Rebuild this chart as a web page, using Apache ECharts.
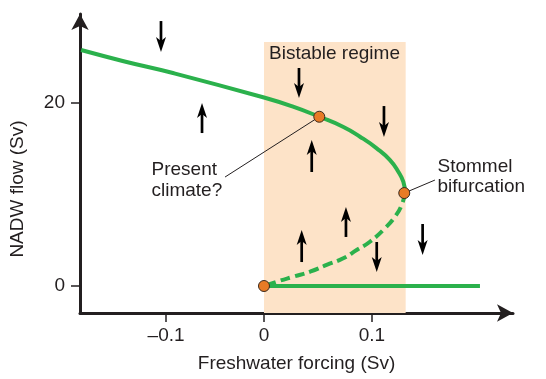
<!DOCTYPE html>
<html><head><meta charset="utf-8">
<script src="https://cdn.jsdelivr.net/npm/echarts@6/dist/echarts.min.js"></script>
<style>html,body{margin:0;padding:0;background:#fff}#c{width:546px;height:379px}</style>
</head><body><div id="c"></div>
<script>
// ---- data ----
const upperBranch = [[-0.1694,25.79],[-0.13,24.57],[-0.0843,23.28],[0,20.6],[0.0269,19.6],[0.0512,18.5],[0.0731,17.41],[0.0889,16.32],[0.1044,15.05],[0.1167,13.77],[0.1244,12.49],[0.129,11.4],[0.1307,10.2]];
const unstableBranch = [[0.1307,10.2],[0.1275,8.85],[0.1213,7.57],[0.112,6.31],[0.0981,4.84],[0.0858,3.93],[0.0734,3.03],[0.058,2.3],[0.0426,1.56],[0.0271,1.02],[0.0118,0.47],[0,0]];
const lowerBranch = [[0,0],[0.2,0]];
const statePoints = [[0.0512,18.5],[0.1299,10.16],[0,0]];
// arrows: [x, yStart, yEnd]
const arrows = [[-0.0954,28.96,25.57],[-0.0574,16.72,20.0],[0.0324,23.83,20.55],[0.1111,19.67,16.28],[0.0442,12.46,15.96],[0.0759,5.36,8.63],[0.0349,2.62,6.12],[0.1044,4.81,1.53],[0.1469,6.78,3.39]];
const bistableRange = [0, 0.1312];
const bistableTop = 26.67;
const presentLeader = [[-0.0361,11.91],[0.0512,18.5]];
const stommelLeader = [[0.1583,11.58],[0.1299,10.16]];
const xTickPos = [-0.0907, 0, 0.1];
const xTickLabels = ['–0.1', '0', '0.1'];
const yTickPos = [0, 20];
const yTickLabels = ['0', '20'];

const INK = '#231f20';
const GREEN = '#2bb14c';
const FONT = 'Liberation Sans, Arial, sans-serif';
const xMin = -0.1704, xMax = 0.2306, yMin = -2.95, yMax = 29.73;

const chart = echarts.init(document.getElementById('c'), null, {renderer: 'canvas'});
function lbl(pos, labels, v) {
  let bi = 0, bd = Infinity;
  pos.forEach((p, i) => { const d = Math.abs(p - v); if (d < bd) { bd = d; bi = i; } });
  return labels[bi];
}
chart.setOption({
  animation: false,
  backgroundColor: '#fff',
  textStyle: {fontFamily: FONT},
  grid: {left: 80, right: 33, top: 14, bottom: 66},
  xAxis: {
    type: 'value', min: xMin, max: xMax,
    name: 'Freshwater forcing (Sv)', nameLocation: 'middle', nameGap: 41,
    nameTextStyle: {color: INK, fontSize: 19, fontFamily: FONT},
    axisLine: {onZero: false, lineStyle: {color: INK, width: 3}, symbol: ['none', 'arrow'], symbolSize: [13, 16]},
    axisTick: {show: true, length: 9, lineStyle: {color: INK, width: 1.5}, customValues: xTickPos},
    axisLabel: {color: INK, fontSize: 19, fontFamily: FONT, margin: 13, customValues: xTickPos,
      formatter: v => lbl(xTickPos, xTickLabels, v)},
    splitLine: {show: false}
  },
  yAxis: {
    type: 'value', min: yMin, max: yMax,
    axisLine: {onZero: false, lineStyle: {color: INK, width: 3}, symbol: ['none', 'arrow'], symbolSize: [13, 16]},
    axisTick: {show: true, length: 9, lineStyle: {color: INK, width: 1.5}, customValues: yTickPos},
    axisLabel: {color: INK, fontSize: 19, fontFamily: FONT, margin: 15, customValues: yTickPos,
      formatter: v => lbl(yTickPos, yTickLabels, v)},
    splitLine: {show: false}
  },
  graphic: [
    {type: 'text', z: 100, x: 18, y: 189, rotation: Math.PI / 2, style: {text: 'NADW flow (Sv)', fill: INK, font: '19px ' + FONT, textAlign: 'center', textVerticalAlign: 'middle'}},
    {type: 'text', z: 100, x: 269, y: 43.5, style: {text: 'Bistable regime', fill: INK, font: '19px ' + FONT, lineHeight: 21, textVerticalAlign: 'top'}},
    {type: 'text', z: 100, x: 151.5, y: 159, style: {text: 'Present\nclimate?', fill: INK, font: '19px ' + FONT, lineHeight: 21, textVerticalAlign: 'top'}},
    {type: 'text', z: 100, x: 437.5, y: 157, style: {text: 'Stommel\nbifurcation', fill: INK, font: '19px ' + FONT, lineHeight: 20, textVerticalAlign: 'top'}}
  ],
  series: [
    {type: 'line', data: [], z: 0, silent: true,
      markArea: {silent: true, itemStyle: {color: '#fde3c8'},
        data: [[{coord: [bistableRange[0], bistableTop]}, {coord: [bistableRange[1], yMin]}]]}},
    {type: 'line', data: presentLeader, symbol: 'none', z: 2, lineStyle: {color: INK, width: 1}},
    {type: 'line', data: stommelLeader, symbol: 'none', z: 2, lineStyle: {color: INK, width: 1}},
    {type: 'line', data: upperBranch, symbol: 'none', smooth: 0.5, z: 3, lineStyle: {color: GREEN, width: 4}},
    {type: 'line', data: unstableBranch, symbol: 'none', smooth: 0.5, z: 3, lineStyle: {color: GREEN, width: 4, type: [10, 5]}},
    {type: 'line', data: lowerBranch, symbol: 'none', z: 3, lineStyle: {color: GREEN, width: 4}},
    {type: 'custom', z: 4, data: arrows,
      renderItem: function (params, api) {
        const x = api.value(0), y1 = api.value(1), y2 = api.value(2);
        const p1 = api.coord([x, y1]), p2 = api.coord([x, y2]);
        const dir = p2[1] > p1[1] ? 1 : -1;
        const headL = 15, headW = 5, notch = 4;
        const base = p2[1] - dir * headL;
        return {type: 'group', children: [
          {type: 'line', shape: {x1: p1[0], y1: p1[1], x2: p2[0], y2: base + dir * (notch + 1)}, style: {stroke: '#000', lineWidth: 2.7}},
          {type: 'polygon', shape: {points: [[p2[0], p2[1]], [p2[0] - headW, base], [p2[0], base + dir * notch], [p2[0] + headW, base]]}, style: {fill: '#000'}}
        ]};
      }},
    {type: 'scatter', data: statePoints, z: 5, symbolSize: 11,
      itemStyle: {color: '#e87b25', borderColor: '#3b2a1e', borderWidth: 1, opacity: 1}}
  ]
});
</script></body></html>
